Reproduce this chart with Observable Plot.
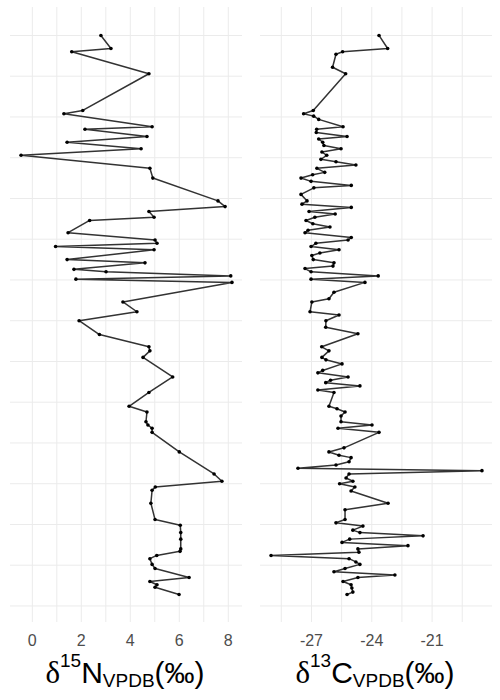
<!DOCTYPE html>
<html>
<head>
<meta charset="utf-8">
<script src="https://cdn.jsdelivr.net/npm/d3@7"></script>
<script src="https://cdn.jsdelivr.net/npm/@observablehq/plot@0.6"></script>
<style>
  html, body { margin: 0; padding: 0; background: #fff; }
  #wrap { position: relative; width: 500px; height: 700px; overflow: hidden; }
  .panel { position: absolute; top: 0; width: 250px; }
  .title { position: absolute; top: 658px; width: 250px; text-align: center;
           font-family: "Liberation Sans", Arial, sans-serif; font-size: 30px; line-height: 30px; color: #000; white-space: nowrap; }
  .title .d { font-family: "Liberation Serif", "DejaVu Serif", serif; font-size: 31px; line-height: 30px; }
  .title .sup { font-size: 19px; line-height: 0; position: relative; top: -16px; }
  .title .sub { font-size: 19px; line-height: 0; position: relative; top: 4px; }
</style>
</head>
<body>
<div id="wrap">
  <div class="panel" id="left" style="left:0"></div>
  <div class="panel" id="right" style="left:250px"></div>
  <div class="title" style="left:0"><span class="d">δ</span><span class="sup">15</span>N<span class="sub">VPDB</span>(‰)</div>
  <div class="title" style="left:250px"><span class="d">δ</span><span class="sup">13</span>C<span class="sub">VPDB</span>(‰)</div>
</div>
<script>
// δ15N profile: depth (arbitrary units from top) and value
const nDepth = [0.0,1.6,2.0,4.7,9.2,9.6,11.2,11.5,12.4,13.1,13.9,14.7,16.3,17.5,20.3,21.0,21.6,22.3,22.7,24.2,25.1,25.5,25.9,26.3,27.5,27.9,28.7,29.0,29.5,29.9,30.3,32.7,33.9,35.0,36.7,38.2,38.7,39.5,41.9,43.8,45.5,46.2,47.4,47.8,48.2,48.7,51.1,53.8,54.7,55.4,55.8,57.4,59.4,60.1,61.0,61.8,63.0,63.3,63.8,64.2,64.9,65.4,66.5,67.0,67.4,67.7,68.6];
const nValue = [2.80,3.21,1.61,4.76,2.06,1.29,4.89,2.15,4.68,1.42,4.44,-0.46,4.80,4.92,7.58,7.87,4.76,4.97,2.34,1.46,5.01,5.09,0.95,4.97,1.42,4.60,1.70,3.01,8.10,1.78,8.15,3.70,4.27,1.91,2.74,4.76,4.80,4.52,5.73,4.76,3.95,4.68,4.64,4.72,4.89,4.89,6.00,7.42,7.74,5.02,4.89,4.84,5.01,6.04,6.06,6.06,6.06,6.03,5.08,4.80,4.89,5.01,6.40,4.80,5.09,5.01,5.99];

// δ13C profile
const cDepth = [0.0,1.6,2.0,2.3,3.9,4.7,9.2,9.6,9.9,10.3,11.2,11.5,11.9,12.4,12.7,13.1,13.5,13.9,14.3,14.7,15.2,15.5,15.9,16.3,16.8,17.1,17.5,17.9,18.4,18.7,19.5,20.3,20.7,21.1,21.6,21.9,22.3,22.7,23.1,23.5,23.9,24.2,24.8,25.1,25.5,25.9,26.3,26.7,27.0,27.5,27.9,28.3,28.6,29.0,29.5,29.9,30.3,31.5,32.3,32.7,33.9,34.3,35.0,35.8,36.6,38.2,38.7,39.5,39.8,40.3,41.1,41.4,41.9,42.3,42.6,43.0,43.5,43.8,45.5,45.8,46.2,46.7,47.4,47.8,48.2,48.7,50.6,51.1,51.5,51.8,52.3,52.7,53.1,53.4,53.8,54.3,54.7,55.0,55.4,55.9,57.4,58.2,59.4,59.8,60.2,60.7,61.0,61.4,61.8,62.2,62.6,63.0,63.4,63.8,64.2,64.6,64.9,65.4,65.8,66.2,66.5,67.0,67.4,67.8,68.3,68.6];
const cValue = [-23.64,-23.21,-25.45,-25.78,-25.95,-25.30,-26.91,-27.39,-26.89,-26.64,-25.43,-26.74,-26.76,-25.23,-26.64,-26.44,-26.38,-25.53,-26.48,-26.24,-26.53,-25.78,-24.79,-26.73,-26.34,-26.94,-27.52,-27.02,-25.02,-26.88,-27.52,-27.22,-27.47,-25.02,-27.12,-25.82,-26.83,-27.27,-26.93,-26.08,-27.17,-27.32,-25.02,-25.18,-26.78,-27.02,-25.63,-26.58,-26.98,-26.91,-25.88,-25.93,-27.32,-27.02,-23.68,-27.02,-24.34,-25.88,-26.13,-26.98,-27.07,-25.63,-26.28,-26.29,-24.69,-26.49,-26.13,-26.48,-26.28,-25.48,-26.44,-26.68,-25.18,-26.05,-26.29,-24.59,-26.68,-25.88,-26.13,-25.73,-25.33,-25.53,-25.53,-23.99,-25.68,-23.64,-25.38,-26.13,-25.63,-25.03,-25.13,-25.78,-27.67,-18.52,-25.13,-25.28,-24.94,-25.60,-24.84,-25.03,-23.19,-25.33,-25.33,-25.78,-24.44,-24.94,-24.59,-21.45,-25.10,-25.48,-22.20,-24.69,-24.64,-29.01,-25.13,-24.79,-24.59,-25.33,-25.88,-22.85,-24.69,-25.43,-25.03,-24.99,-24.94,-25.23];

// axis ticks and grid lines
const nTicks = [0, 2, 4, 6, 8];
const nGrid = [0, 1, 2, 3, 4, 5, 6, 7, 8];
const cTicks = [-27, -24, -21];
const cGrid = [-28.5, -27, -25.5, -24, -22.5, -21, -19.5];
const depthGrid = [0, 5, 10, 15, 20, 25, 30, 35, 40, 45, 50, 55, 60, 65, 70];

function profile(depth, value, ticks, grid) {
  const data = depth.map((d, i) => ({depth: d, value: value[i]}));
  const [lo, hi] = d3.extent(value);
  const pad = (hi - lo) * 0.05;
  const [dlo, dhi] = d3.extent(depth);
  const dpad = (dhi - dlo) * 0.05;
  return Plot.plot({
    width: 250,
    height: 655,
    marginLeft: 10,
    marginRight: 8,
    marginTop: 7,
    marginBottom: 33,
    style: {fontFamily: "'Liberation Sans', Arial, sans-serif", fontSize: "16px", color: "#4d4d4d", background: "#fff"},
    x: {domain: [lo - pad, hi + pad]},
    y: {domain: [dlo - dpad, dhi + dpad], reverse: true},
    marks: [
      Plot.gridX(grid, {stroke: "#ebebeb", strokeOpacity: 1, strokeWidth: 1}),
      Plot.gridY(depthGrid, {stroke: "#ebebeb", strokeOpacity: 1, strokeWidth: 1}),
      Plot.axisX(ticks, {tickSize: 0, tickPadding: 12, tickFormat: d => String(d), fill: "#4d4d4d", fontSize: 16, label: null}),
      Plot.axisY([], {label: null, tickSize: 0}),
      Plot.line(data, {x: "value", y: "depth", stroke: "#333", strokeWidth: 1.5}),
      Plot.dot(data, {x: "value", y: "depth", r: 1.8, fill: "#000", stroke: "none"})
    ]
  });
}

document.getElementById("left").append(profile(nDepth, nValue, nTicks, nGrid));
document.getElementById("right").append(profile(cDepth, cValue, cTicks, cGrid));
</script>
</body>
</html>
